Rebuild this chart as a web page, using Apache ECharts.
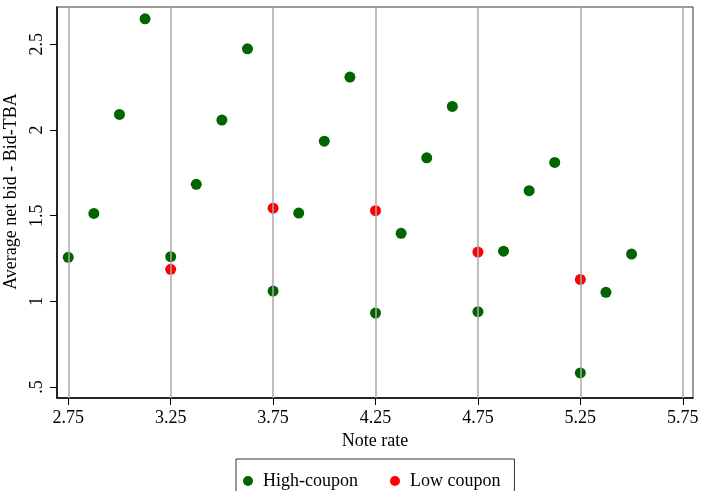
<!DOCTYPE html>
<html>
<head>
<meta charset="utf-8">
<script src="https://cdn.jsdelivr.net/npm/echarts@6/dist/echarts.min.js"></script>
<style>
  html, body { margin: 0; padding: 0; background: #fff; }
  #chart { width: 701px; height: 491px; }
</style>
</head>
<body>
<div id="chart"></div>
<script>
// note rate ticks
const xTicks = [2.75, 3.25, 3.75, 4.25, 4.75, 5.25, 5.75]
const yTicks = [0.5, 1, 1.5, 2, 2.5]

// high-coupon points
const highRate = [2.75, 2.875, 3.0, 3.125, 3.25, 3.375, 3.5, 3.625, 3.75, 3.875, 4.0, 4.125,
  4.25, 4.375, 4.5, 4.625, 4.75, 4.875, 5.0, 5.125, 5.25, 5.375, 5.5]
const highBid = [1.257, 1.513, 2.091, 2.649, 1.261, 1.683, 2.058, 2.474, 1.060, 1.515, 1.935, 2.309,
  0.932, 1.397, 1.838, 2.138, 0.940, 1.293, 1.646, 1.811, 0.582, 1.053, 1.276]

// low coupon points
const lowRate = [3.25, 3.75, 4.25, 4.75, 5.25]
const lowBid = [1.187, 1.544, 1.529, 1.288, 1.128]

const font = 'Liberation Serif'

let myChart = echarts.init(document.getElementById('chart'))
let option = {
  animation: false,
  grid: {
    left: 57,
    top: 7,
    right: 8,
    bottom: 93,
    outerBoundsMode: 'none',
    show: true,
    borderColor: '#333',
    borderWidth: 1,
  },
  legend: {
    left: 236,
    top: 459,
    padding: [13, 14, 30, 7],
    itemWidth: 10,
    itemHeight: 10,
    itemGap: 32,
    borderColor: '#333',
    borderWidth: 1,
    textStyle: {
      fontFamily: font,
      fontSize: 18,
      color: '#000',
      padding: [0, 0, 0, 5],
    },
    data: [
      { name: 'High-coupon', icon: 'circle' },
      { name: 'Low coupon', icon: 'circle' },
    ],
  },
  xAxis: {
    type: 'value',
    min: 2.695,
    max: 5.80,
    name: 'Note rate',
    nameLocation: 'middle',
    nameGap: 30,
    nameTextStyle: { fontFamily: font, fontSize: 18, color: '#000' },
    axisLine: { show: true, lineStyle: { color: '#000', width: 1.5 } },
    axisTick: { show: true, length: 7, customValues: xTicks, lineStyle: { color: '#000' } },
    axisLabel: {
      customValues: xTicks,
      margin: 11,
      fontFamily: font,
      fontSize: 18,
      color: '#000',
      formatter: (v) => v.toFixed(2),
    },
    splitLine: { show: false },
  },
  yAxis: {
    type: 'value',
    min: 0.436,
    max: 2.718,
    name: 'Average net bid - Bid-TBA',
    nameLocation: 'middle',
    nameGap: 32,
    nameRotate: 90,
    nameTextStyle: { fontFamily: font, fontSize: 18, color: '#000', padding: [0, 0, 0, 22] },
    axisLine: { show: true, lineStyle: { color: '#000', width: 1.5 } },
    axisTick: { show: true, length: 7, customValues: yTicks, lineStyle: { color: '#000' } },
    axisLabel: {
      customValues: yTicks,
      rotate: 90,
      margin: 11,
      fontFamily: font,
      fontSize: 18,
      color: '#000',
      formatter: (v) => (v === 0.5 ? '.5' : String(v)),
    },
    splitLine: { show: false },
  },
  series: [
    {
      // vertical grid lines
      type: 'scatter',
      data: [],
      z: 1,
      silent: true,
      markLine: {
        silent: true,
        symbol: 'none',
        label: { show: false },
        lineStyle: { color: '#aaaaaa', width: 1.5, type: 'solid' },
        data: xTicks.map((v) => ({ xAxis: v })),
      },
    },
    {
      name: 'High-coupon',
      type: 'scatter',
      z: 3,
      symbolSize: 11,
      itemStyle: { color: '#006400', opacity: 1 },
      data: highRate.map((x, i) => [x, highBid[i]]),
    },
    {
      name: 'Low coupon',
      type: 'scatter',
      z: 3,
      symbolSize: 11,
      itemStyle: { color: '#ff0000', opacity: 1 },
      data: lowRate.map((x, i) => [x, lowBid[i]]),
    },
  ],
}
myChart.setOption(option)
</script>
</body>
</html>
